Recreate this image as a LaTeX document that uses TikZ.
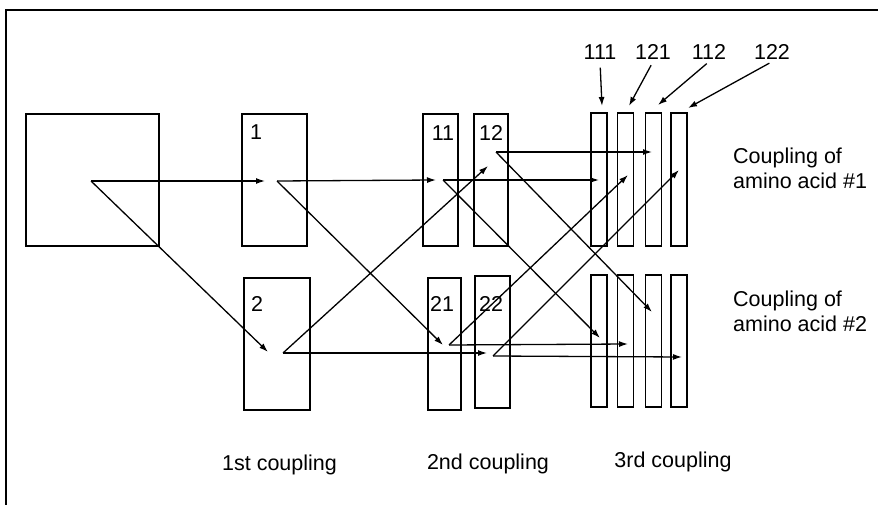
\documentclass[tikz,border=0pt]{standalone}
\usepackage{fontspec}
\setmainfont{Liberation Sans}
\usetikzlibrary{arrows.meta}
\newcommand{\cplFont}{\fontsize{21.5}{25}\selectfont}

\begin{document}
\begin{tikzpicture}[x=1pt,y=-1pt,
  well/.style={draw, line width=1.3pt, inner sep=0pt, minimum height=132pt},
  txt/.style={font=\cplFont, inner sep=0pt},
  arr/.style={line width=1.3pt, -{Latex[length=9pt,width=6pt]}}]
\useasboundingbox (0,0) rectangle (878,505);
\draw[line width=1.3pt] (878,10) -- (6,10) -- (6,505);
\node[well, minimum width=133pt] (src) at (92.5,180) {};
\node[well, minimum width=65pt] (b1) at (274.5,180) {};
\node[well, minimum width=66pt] (b2) at (277,344) {};
\node[well, minimum width=35pt] (b11) at (440.5,180) {};
\node[well, minimum width=34pt] (b12) at (491,180) {};
\node[well, minimum width=33pt] (b21) at (444.5,344) {};
\node[well, minimum width=35pt] (b22) at (492.5,342) {};
\foreach \n/\cx in {1/599,2/625.5,3/653.5,4/679} {
  \node[well, minimum width=16pt, minimum height=133pt] (t\n) at (\cx,179.5) {};
  \node[well, minimum width=16pt] (u\n) at (\cx,341) {};
}
\node[txt] (n1) at (256,132) {1};
\node[txt] (n2) at (257,304) {2};
\node[txt] (n11) at (443,133) {11};
\node[txt] (n12) at (491,133) {12};
\node[txt] (n21) at (442,304) {21};
\node[txt] (n22) at (491,304) {22};
\node[txt, inner sep=2pt] (l111) at (600,52) {111};
\node[txt, inner sep=2pt] (l121) at (653,52) {121};
\node[txt, inner sep=2pt] (l112) at (709,52) {112};
\node[txt, inner sep=2pt] (l122) at (772,52) {122};
\coordinate (p111) at (602,106);
\coordinate (p121) at (629,106);
\coordinate (p112) at (658,105);
\coordinate (p122) at (688,108);
\draw[arr, shorten <=6pt] (l111.south) -- (p111);
\draw[arr, shorten <=4pt] (l121.south) -- (p121);
\draw[arr, shorten <=3pt] (l112.south) -- (p112);
\draw[arr, shorten <=3pt] (l122.south) -- (p122);
\node[txt, align=left, anchor=north west] (aa1) at (733,148) {Coupling of\\amino acid \#1};
\node[txt, align=left, anchor=north west] (aa2) at (733,291) {Coupling of\\amino acid \#2};
\node[txt] (c1) at (279.5,465) {1st coupling};
\node[txt] (c2) at (488,464) {2nd coupling};
\node[txt] (c3) at (673,462) {3rd coupling};
\coordinate (so) at (91,181);
\coordinate (b1i) at (265,181);
\coordinate (b1o) at (277,181);
\coordinate (b2i) at (268,352);
\coordinate (b2o) at (283,353);
\coordinate (b11i) at (436,180);
\coordinate (b11o) at (443,180);
\coordinate (b12i) at (488,166);
\coordinate (b12o) at (496,152);
\coordinate (b21i) at (443,345);
\coordinate (b21o) at (449,345);
\coordinate (b22i) at (487,353);
\coordinate (b22o) at (493,356);
\coordinate (t1i) at (599,180);
\coordinate (t2i) at (628,175);
\coordinate (t3i) at (652,152);
\coordinate (t4i) at (679,170);
\coordinate (u1i) at (600,338);
\coordinate (u2i) at (628,344);
\coordinate (u3i) at (652,312);
\coordinate (u4i) at (682,357);
\draw[arr] (so) -- (b1i);
\draw[arr] (so) -- (b2i);
\draw[arr] (b1o) -- (b11i);
\draw[arr] (b1o) -- (b21i);
\draw[arr] (b2o) -- (b22i);
\draw[arr] (b2o) -- (b12i);
\draw[arr] (b11o) -- (t1i);
\draw[arr] (b11o) -- (u1i);
\draw[arr] (b12o) -- (t3i);
\draw[arr] (b12o) -- (u3i);
\draw[arr] (b21o) -- (u2i);
\draw[arr] (b21o) -- (t2i);
\draw[arr] (b22o) -- (u4i);
\draw[arr] (b22o) -- (t4i);
\end{tikzpicture}
\end{document}
